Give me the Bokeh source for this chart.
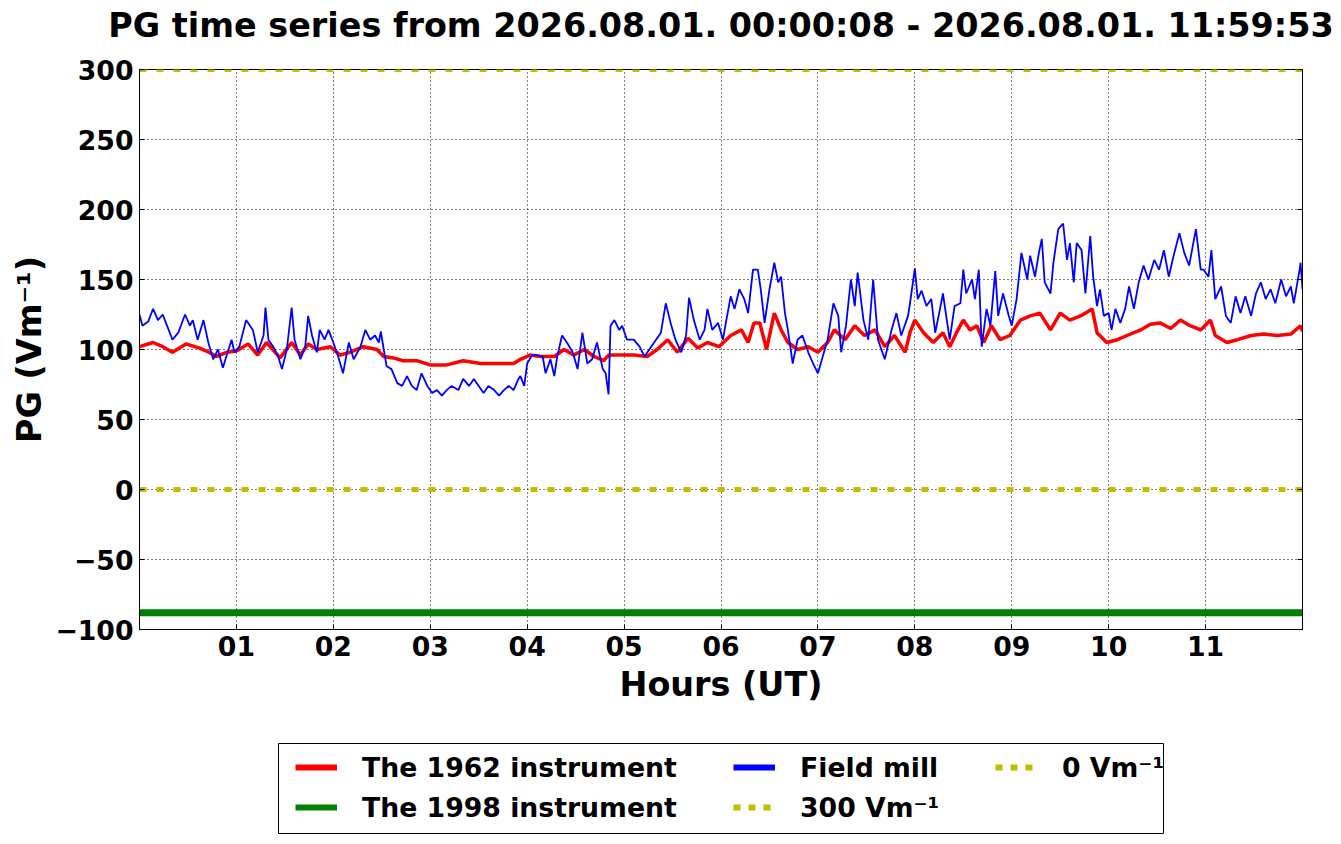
from bokeh.plotting import figure
from bokeh.models import (Legend, LegendItem, FixedTicker, LinearAxis, Range1d, BoxAnnotation)
from bokeh.layouts import column
from bokeh.embed import file_html
from bokeh.resources import INLINE

# ---------------- data ----------------
title_text = "PG time series from 2026.08.01. 00:00:08 - 2026.08.01. 11:59:53"

x_ticks = [1, 2, 3, 4, 5, 6, 7, 8, 9, 10, 11]
x_tick_labels = ["01", "02", "03", "04", "05", "06", "07", "08", "09", "10", "11"]
y_ticks = [-100, -50, 0, 50, 100, 150, 200, 250, 300]
y_tick_labels = ["\u2212100", "\u221250", "0", "50", "100", "150", "200", "250", "300"]

# Field mill (blue)
blue_hours = [
    0.00, 0.03, 0.09, 0.14, 0.19, 0.24, 0.29, 0.34, 0.40, 0.47,
    0.52, 0.55, 0.60, 0.66, 0.71, 0.76, 0.81, 0.86, 0.91, 0.95,
    0.98, 1.03, 1.10, 1.17, 1.22, 1.28, 1.30, 1.33, 1.38, 1.43,
    1.47, 1.52, 1.57, 1.60, 1.66, 1.71, 1.74, 1.78, 1.83, 1.86,
    1.91, 1.95, 2.00, 2.05, 2.10, 2.16, 2.21, 2.28, 2.33, 2.38,
    2.43, 2.47, 2.49, 2.52, 2.55, 2.60, 2.66, 2.71, 2.76, 2.81,
    2.86, 2.91, 2.97, 3.02, 3.07, 3.12, 3.17, 3.22, 3.29, 3.34,
    3.40, 3.45, 3.50, 3.55, 3.60, 3.66, 3.71, 3.76, 3.81, 3.86,
    3.91,
    3.93, 3.97, 4.00, 4.05, 4.10, 4.16, 4.19, 4.24, 4.28, 4.31,
    4.36, 4.41, 4.47, 4.52, 4.57, 4.62, 4.67, 4.72, 4.78, 4.81,
    4.84, 4.86, 4.90, 4.95, 4.98, 5.03, 5.10, 5.16, 5.21, 5.26,
    5.31, 5.38, 5.43, 5.48, 5.53, 5.59, 5.64, 5.67, 5.72, 5.78,
    5.83, 5.86, 5.91, 5.97, 6.02, 6.05, 6.10, 6.14, 6.19, 6.24,
    6.28, 6.33, 6.38, 6.41, 6.45, 6.50, 6.55, 6.59, 6.62, 6.66,
    6.69, 6.74, 6.79, 6.84, 6.90, 6.95, 7.00, 7.05, 7.10, 7.16,
    7.21, 7.24, 7.29, 7.34, 7.38, 7.41, 7.47, 7.52, 7.57, 7.62,
    7.69, 7.76, 7.81, 7.86, 7.93,
    7.95, 8.00, 8.03, 8.07, 8.12, 8.17, 8.21, 8.26, 8.29, 8.33,
    8.36, 8.41, 8.47, 8.50, 8.53, 8.59, 8.62, 8.66, 8.69, 8.74,
    8.78, 8.83, 8.86, 8.91, 8.97, 9.00, 9.05, 9.10, 9.16, 9.19,
    9.24, 9.28, 9.31, 9.34, 9.40, 9.43, 9.48, 9.53, 9.57, 9.60,
    9.64, 9.67, 9.72, 9.76, 9.81, 9.84, 9.88, 9.91, 9.95, 10.00,
    10.03, 10.07, 10.12, 10.17, 10.21, 10.26, 10.31, 10.36, 10.41, 10.47,
    10.52, 10.57, 10.62, 10.67, 10.73, 10.78, 10.83, 10.86, 10.90, 10.95,
    10.98, 11.03, 11.06, 11.10, 11.16, 11.21, 11.26, 11.31, 11.36, 11.41,
    11.47, 11.52, 11.57, 11.62, 11.67, 11.72, 11.78, 11.83, 11.88, 11.91,
    11.97, 11.98, 12.00,
]
blue_pg = [
    125, 117, 120, 129, 121, 125, 116, 107, 112, 125,
    117, 121, 107, 121, 105, 93, 100, 87, 98, 107,
    98, 102, 121, 114, 98, 110, 130, 107, 102, 95,
    86, 100, 130, 107, 93, 102, 124, 110, 98, 114,
    107, 114, 105, 95, 83, 105, 93, 102, 114, 107,
    110, 105, 113, 100, 88, 86, 76, 74, 81, 74,
    71, 83, 74, 69, 71, 67, 71, 74, 71, 79,
    74, 79, 74, 69, 74, 71, 67, 71, 74, 71,
    79,
    81, 74, 90, 96, 96, 95, 83, 93, 81, 95,
    110, 105, 98, 86, 112, 90, 93, 105, 86, 83,
    68, 117, 121, 114, 117, 107, 107, 102, 95, 100,
    105, 112, 133, 119, 107, 98, 110, 137, 121, 107,
    114, 129, 114, 119, 107, 119, 138, 129, 143, 136,
    126, 157, 157, 143, 119, 143, 162, 148, 152, 126,
    114, 90, 107, 110, 98, 90, 83, 95, 107, 133,
    124, 98, 117, 150, 131, 155, 121, 107, 150, 107,
    93, 114, 126, 110, 124,
    133, 158, 136, 142, 131, 136, 112, 129, 140, 121,
    107, 131, 133, 157, 140, 150, 136, 157, 102, 129,
    117, 156, 124, 140, 124, 117, 136, 169, 150, 167,
    152, 169, 179, 148, 140, 162, 186, 190, 164, 176,
    148, 176, 171, 140, 181, 152, 131, 143, 124, 126,
    114, 129, 119, 129, 145, 129, 148, 160, 150, 164,
    157, 171, 152, 167, 183, 169, 160, 171, 186, 157,
    157, 152, 171, 136, 145, 124, 119, 138, 126, 138,
    124, 140, 148, 136, 143, 133, 150, 138, 145, 133,
    157, 162, 143,
]

# The 1962 instrument (red)
red_hours = [
    0.00, 0.14, 0.24, 0.34, 0.48, 0.62, 0.72, 0.79, 0.90, 1.00,
    1.12, 1.22, 1.31, 1.45, 1.57, 1.66, 1.74, 1.83, 1.97, 2.07,
    2.17, 2.31, 2.45, 2.52, 2.62, 2.72, 2.86, 3.00, 3.17, 3.34,
    3.52, 3.69, 3.86,
    3.93, 4.03, 4.14, 4.28, 4.38, 4.48, 4.59, 4.69, 4.79, 4.84,
    4.97, 5.10, 5.24, 5.34, 5.45, 5.55, 5.66, 5.76, 5.86, 5.98,
    6.10, 6.21, 6.28, 6.34, 6.40, 6.47, 6.55, 6.62, 6.69, 6.79,
    6.90, 7.00, 7.10, 7.17, 7.28, 7.38, 7.48, 7.59, 7.69, 7.79,
    7.90,
    7.95, 8.00, 8.09, 8.19, 8.29, 8.36, 8.43, 8.50, 8.57, 8.64,
    8.71, 8.79, 8.88, 8.98, 9.09, 9.19, 9.29, 9.40, 9.50, 9.60,
    9.71, 9.83, 9.88, 9.98, 10.09, 10.19, 10.33, 10.43, 10.53, 10.64,
    10.74, 10.84, 10.95, 11.05, 11.10, 11.22, 11.33, 11.47, 11.60, 11.74,
    11.88, 11.98, 12.00,
]
red_pg = [
    102, 105, 102, 98, 104, 101, 98, 95, 98, 99,
    104, 96, 105, 94, 105, 96, 104, 100, 102, 96,
    98, 102, 100, 95, 94, 92, 92, 89, 89, 92,
    90, 90, 90,
    93, 96, 95, 95, 100, 96, 100, 95, 92, 96,
    96, 96, 95, 100, 107, 98, 108, 101, 105, 102,
    110, 114, 105, 119, 119, 100, 126, 114, 105, 100,
    102, 98, 105, 114, 107, 117, 110, 114, 102, 110,
    98,
    112, 121, 112, 105, 112, 102, 112, 121, 114, 117,
    105, 117, 107, 110, 121, 124, 126, 114, 126, 121,
    124, 129, 112, 105, 107, 110, 114, 118, 119, 115,
    121, 117, 114, 121, 110, 105, 107, 110, 111, 110,
    111, 117, 113,
]

# The 1998 instrument (green) - constant value
green_hours = [0.0, 12.0]
green_pg = [-88, -88]

# reference levels
ref_hours = [0.0, 12.0]
ref_300 = [300, 300]
ref_0 = [0, 0]

legend_labels = ["The 1962 instrument", "The 1998 instrument", "Field mill",
                 "300 Vm\u207b\u00b9", "0 Vm\u207b\u00b9"]

# ---------------- styling constants ----------------
FONT = "DejaVu Sans"
RED, GREEN, BLUE, YEL = "#ff0000", "#008000", "#0000ff", "#bfbf00"
FW = 1163


def bare(fig):
    fig.outline_line_color = None
    fig.xgrid.visible = False
    fig.ygrid.visible = False
    fig.background_fill_color = "white"
    fig.border_fill_color = "white"


# ---------------- title strip ----------------
pt = figure(frame_width=FW, frame_height=1,
            x_range=Range1d(0, 1), y_range=Range1d(0, 1),
            min_border_left=139, min_border_right=31,
            min_border_top=0, min_border_bottom=0,
            x_axis_type=None, y_axis_type=None,
            output_backend="svg", toolbar_location=None,
            title=title_text)
bare(pt)
pt.title.text_font = FONT
pt.title.text_font_style = "bold"
pt.title.text_font_size = "33.4px"
pt.title.text_color = "black"
pt.title.align = "center"
pt.title.standoff = 6

# ---------------- main chart ----------------
p = figure(frame_width=FW, frame_height=560,
           min_border_left=139, min_border_right=31,
           min_border_top=21, min_border_bottom=100,
           x_range=Range1d(0, 12), y_range=Range1d(-100, 300),
           output_backend="svg", toolbar_location=None)

p.background_fill_color = "white"
p.border_fill_color = "white"
p.outline_line_color = "black"
p.outline_line_width = 1

# glyphs
r_red = p.line(red_hours, red_pg, line_color=RED, line_width=3.5)
r_green = p.line(green_hours, green_pg, line_color=GREEN, line_width=7)
r_blue = p.line(blue_hours, blue_pg, line_color=BLUE, line_width=1.8)
r_300 = p.line(ref_hours, ref_300, line_color=YEL, line_width=5, line_dash="7 10")
r_0 = p.line(ref_hours, ref_0, line_color=YEL, line_width=5, line_dash="7 10")

# grid
for g in (p.xgrid, p.ygrid):
    g.grid_line_color = "black"
    g.grid_line_dash = "1 3"
    g.grid_line_width = 1
p.xgrid.ticker = FixedTicker(ticks=x_ticks)
p.ygrid.ticker = FixedTicker(ticks=y_ticks)

# axes
xa = p.xaxis[0]
ya = p.yaxis[0]
xa.ticker = FixedTicker(ticks=x_ticks)
ya.ticker = FixedTicker(ticks=y_ticks)
xa.major_label_overrides = {t: s for t, s in zip(x_ticks, x_tick_labels)}
ya.major_label_overrides = {t: s for t, s in zip(y_ticks, y_tick_labels)}
xa.axis_label = "Hours (UT)"
ya.axis_label = "PG (Vm\u207b\u00b9)"
for ax in (xa, ya):
    ax.axis_line_color = "black"
    ax.major_tick_in = 5
    ax.major_tick_out = 0
    ax.minor_tick_line_color = None
    ax.major_label_text_font = FONT
    ax.major_label_text_font_style = "bold"
    ax.major_label_text_font_size = "26.7px"
    ax.major_label_text_color = "black"
    ax.axis_label_text_font = FONT
    ax.axis_label_text_font_style = "bold"
    ax.axis_label_text_font_size = "33.4px"
    ax.axis_label_text_color = "black"
xa.major_label_standoff = 6
ya.major_label_standoff = 6
xa.axis_label_standoff = 6
ya.axis_label_standoff = 3

# mirrored tick marks on the right (no labels)
ra = LinearAxis(ticker=FixedTicker(ticks=y_ticks),
                major_label_overrides={t: "" for t in y_ticks},
                major_tick_in=5, major_tick_out=0, minor_tick_line_color=None,
                axis_line_color="black", major_label_standoff=0)
p.add_layout(ra, "right")

# ---------------- legend strip ----------------
pl = figure(frame_width=FW, frame_height=114,
            x_range=Range1d(0, FW), y_range=Range1d(0, 114),
            min_border_left=139, min_border_right=31,
            min_border_top=0, min_border_bottom=0,
            x_axis_type=None, y_axis_type=None,
            output_backend="svg", toolbar_location=None)
bare(pl)

# legend box outline (pixel units of this strip)
pl.add_layout(BoxAnnotation(left=139, right=1024, bottom=10, top=100,
                            fill_alpha=0.0, line_color="black", line_width=1,
                            line_alpha=1.0))

# legend handles: single points, so the line itself draws nothing in the strip
hx, hy = [-10], [-10]
l_red = pl.line(hx, hy, line_color=RED, line_width=6)
l_green = pl.line(hx, hy, line_color=GREEN, line_width=6)
l_blue = pl.line(hx, hy, line_color=BLUE, line_width=6)
l_300 = pl.line(hx, hy, line_color=YEL, line_width=6, line_dash="7 8")
l_0 = pl.line(hx, hy, line_color=YEL, line_width=6, line_dash="7 8")

leg_style = dict(label_text_font=FONT, label_text_font_style="bold",
                 label_text_font_size="26.7px", label_text_color="black",
                 glyph_width=42, glyph_height=36, label_height=36,
                 label_standoff=25, spacing=4, padding=0, margin=0,
                 border_line_color=None, background_fill_alpha=0.0)

leg1 = Legend(items=[LegendItem(label=legend_labels[0], renderers=[l_red]),
                     LegendItem(label=legend_labels[1], renderers=[l_green])],
              location=(156, 18), **leg_style)
leg2 = Legend(items=[LegendItem(label=legend_labels[2], renderers=[l_blue]),
                     LegendItem(label=legend_labels[3], renderers=[l_300])],
              location=(594, 18), **leg_style)
leg3 = Legend(items=[LegendItem(label=legend_labels[4], renderers=[l_0])],
              location=(856, 58), **leg_style)
for lg in (leg1, leg2, leg3):
    pl.add_layout(lg, "center")

layout = column(pt, p, pl, spacing=0)
open("out.html", "w").write(file_html(layout, INLINE))
